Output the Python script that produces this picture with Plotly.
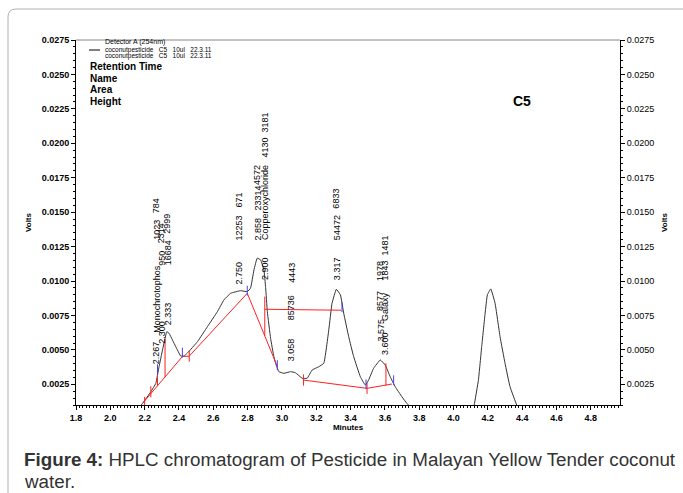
import plotly.graph_objects as go
import numpy as np

# ---------------- data ----------------
main_t = [2.16, 2.188, 2.236, 2.265, 2.284, 2.304, 2.319, 2.329, 2.342, 2.362, 2.391, 2.410,
          2.430, 2.449, 2.508, 2.566, 2.624, 2.662, 2.701, 2.759, 2.798, 2.817, 2.837, 2.856,
          2.876, 2.895, 2.905, 2.915, 2.934, 2.953, 2.963, 2.982, 3.011, 3.050, 3.079, 3.118,
          3.147, 3.176, 3.215, 3.244, 3.273, 3.292, 3.317, 3.341, 3.360, 3.389, 3.418, 3.457,
          3.486, 3.505, 3.534, 3.573, 3.602, 3.631, 3.660, 3.699, 3.728, 3.77]
main_v = [0.0007, 0.00112, 0.00196, 0.00257, 0.00378, 0.00499, 0.00584, 0.00632, 0.00621,
          0.00572, 0.00499, 0.00456, 0.00456, 0.00477, 0.0056, 0.00669, 0.00778, 0.00863,
          0.00911, 0.0093, 0.00923, 0.00948, 0.01081, 0.01166, 0.01153, 0.01081, 0.00953,
          0.00778, 0.00584, 0.00451, 0.00403, 0.00342, 0.0033, 0.00342, 0.00334, 0.00294,
          0.00294, 0.00354, 0.00378, 0.00403, 0.00645, 0.00839, 0.0094, 0.00899, 0.00766,
          0.00596, 0.00451, 0.00305, 0.00245, 0.00281, 0.00366, 0.00427, 0.0039, 0.00305,
          0.00233, 0.0016, 0.00112, 0.0006]

peak2_t = [4.11, 4.12, 4.145, 4.164, 4.184, 4.197, 4.217, 4.242, 4.271, 4.300, 4.329, 4.368, 4.38]
peak2_v = [0.0007, 0.001, 0.00281, 0.00523, 0.00766, 0.00899, 0.00943, 0.00839, 0.00596,
           0.00403, 0.00233, 0.001, 0.0007]

# integration baselines / drop lines (red)
base_t = [2.188, 2.42, 2.46, 2.798, 2.973, None,
          2.275, 2.275, None, 2.319, 2.319, None,
          2.900, 2.900, None, 2.900, 3.345, None,
          3.126, 3.496, 3.641, None, 3.606, 3.606]
base_v = [0.00112, 0.00452, 0.00455, 0.00911, 0.0038, None,
          0.00239, 0.0032, None, 0.00303, 0.0058, None,
          0.00602, 0.00887, None, 0.00795, 0.00788, None,
          0.00281, 0.00221, 0.00252, None, 0.00241, 0.00403]

red_tick_t = [2.20, 2.236, 2.46, 3.126, 3.496]
red_tick_v = [0.00118, 0.00196, 0.00455, 0.00281, 0.00221]

blue_tick_t = [2.275, 2.42, 2.798, 2.973, 3.35, 3.49, 3.651]
blue_tick_v = [0.0036, 0.0048, 0.0093, 0.0039, 0.0081, 0.0025, 0.0028]

# peak labels (retention time, name, area, height)
lab_rt = [2.267, 2.300, 2.333, 2.750, 2.858, 2.900, 3.058, 3.317, 3.575, 3.600]
lab_name = ["Monochrotophos", "", "", "", "", "Copperoxychloride", "", "", "", "Galaxy"]
lab_area = ["1023", "950", "16684", "12253", "23314", "4130", "85736", "54472", "8577", "1843"]
lab_height = ["784", "2314", "2999", "671", "4572", "3181", "4443", "6833", "1978", "1481"]

# label layout (pixel offsets): base shift above trace, name / area / height offsets
lab_shift = [15, 8, 5, 4, 16, -3, 9, 7, 17, 8]
name_off = [32, 0, 0, 0, 0, 40, 0, 0, 0, 34]
area_off = [125, 78, 60, 44, 30, 122, 41, 40, 30, 74]
height_off = [151, 100, 92, 77, 55, 147, 78, 72, 60, 99]

x_ticks = [1.8, 2.0, 2.2, 2.4, 2.6, 2.8, 3.0, 3.2, 3.4, 3.6, 3.8, 4.0, 4.2, 4.4, 4.6, 4.8]
y_ticks = [0.0025, 0.0050, 0.0075, 0.0100, 0.0125, 0.0150, 0.0175, 0.0200, 0.0225, 0.0250, 0.0275]

# ---------------- figure ----------------
W, H = 683, 493
L, R, T, B = 76, 620, 40, 405
def px(x):
    return (x - L) / (R - L)
def py(y):
    return (B - y) / (B - T)

XR = [1.8, 4.97]
YR = [0.001, 0.0275]

fig = go.Figure()
fig.add_trace(go.Scatter(x=main_t, y=main_v, mode="lines", line=dict(color="#333333", width=1, shape="spline", smoothing=0.3), hoverinfo="skip"))
fig.add_trace(go.Scatter(x=peak2_t, y=peak2_v, mode="lines", line=dict(color="#333333", width=1, shape="spline", smoothing=0.3), hoverinfo="skip"))
fig.add_trace(go.Scatter(x=base_t, y=base_v, mode="lines", line=dict(color="#ff2020", width=1), connectgaps=False, hoverinfo="skip"))
fig.add_trace(go.Scatter(x=red_tick_t, y=red_tick_v, mode="markers",
                         marker=dict(symbol="line-ns", size=8, line=dict(color="#ff2020", width=1)), hoverinfo="skip"))
fig.add_trace(go.Scatter(x=blue_tick_t, y=blue_tick_v, mode="markers",
                         marker=dict(symbol="line-ns", size=7, line=dict(color="#4040ff", width=1)), hoverinfo="skip"))
fig.add_trace(go.Scatter(x=[XR[0]], y=[YR[0]], yaxis="y2", mode="markers", marker=dict(opacity=0), hoverinfo="skip"))

lab_font = dict(family="Liberation Sans, Arial", size=9, color="#000")
def vlabel(x, y, text, shift):
    fig.add_annotation(x=x, y=y, text=text, textangle=-90, showarrow=False,
                       xanchor="center", yanchor="bottom", yshift=shift, font=lab_font)

for i, rt in enumerate(lab_rt):
    yv = float(np.interp(rt, main_t, main_v))
    sh = lab_shift[i]
    vlabel(rt, yv, f"{rt:.3f}", sh)
    if lab_name[i]:
        vlabel(rt, yv, lab_name[i], sh + name_off[i])
    vlabel(rt, yv, lab_area[i], sh + area_off[i])
    vlabel(rt, yv, lab_height[i], sh + height_off[i])

tick_font = dict(family="Liberation Sans Narrow, Liberation Sans, Arial", size=9, color="#000")
axis_common = dict(showline=True, linecolor="#000", linewidth=1, showgrid=False, zeroline=False,
                   automargin=False)

fig.update_layout(
    width=W, height=H, margin=dict(l=L, r=W - R, t=T, b=H - B, autoexpand=False),
    paper_bgcolor="white", plot_bgcolor="white", showlegend=False,
    xaxis=dict(range=XR, tickvals=x_ticks, ticktext=[f"{v:.1f}" for v in x_ticks],
               ticks="outside", ticklen=4, tickcolor="#000",
               minor=dict(dtick=0.02, tick0=1.8, ticks="outside", ticklen=2, tickcolor="#000"),
               tickfont=dict(tick_font, **{"weight": "bold"}),
               title=dict(text="Minutes", font=dict(family="Liberation Sans Narrow, Liberation Sans, Arial", size=8, color="#000", weight="bold"), standoff=2),
               **axis_common),
    yaxis=dict(range=YR, tickvals=y_ticks, ticktext=[f"{v:.4f}" for v in y_ticks],
               ticks="outside", ticklen=4, tickcolor="#000",
               minor=dict(dtick=0.0005, tick0=0, ticks="outside", ticklen=2, tickcolor="#000"),
               tickfont=dict(family="Liberation Sans, Arial", size=9, color="#000", weight="bold"),
               title=dict(text="Volts", font=dict(family="Liberation Sans, Arial", size=8, color="#000", weight="bold"), standoff=8),
               **axis_common),
    yaxis2=dict(range=YR, overlaying="y", side="right", tickvals=y_ticks,
                ticktext=[f"{v:.4f}" for v in y_ticks],
                ticks="outside", ticklen=4, tickcolor="#000",
                minor=dict(dtick=0.0005, tick0=0, ticks="outside", ticklen=2, tickcolor="#000"),
                tickfont=dict(family="Liberation Sans, Arial", size=9, color="#000"),
                title=dict(text="Volts", font=dict(family="Liberation Sans, Arial", size=8, color="#000", weight="bold"), standoff=8),
                **axis_common),
)

# top frame line (gray)
fig.add_shape(type="line", xref="paper", yref="paper", x0=0, x1=1, y0=1, y1=1,
              line=dict(color="#888888", width=1))

# outer border with rounded top-left corner
path = (f"M {px(683)},{py(9)} L {px(16)},{py(9)} Q {px(8)},{py(9)} {px(8)},{py(17)} "
        f"L {px(8)},{py(493)}")
fig.add_shape(type="path", xref="paper", yref="paper", path=path,
              line=dict(color="#b0b0b0", width=1))

# header texts
NB = "\u00a0"
small = dict(family="Liberation Sans Narrow, Liberation Sans, Arial", size=6.5, color="#000")
run_txt = "coconutpesticide" + NB * 3 + "C5" + NB * 3 + "10ul" + NB * 3 + "22.3.11"
fig.add_annotation(xref="paper", yref="paper", x=px(103), y=py(42), text="Detector A (254nm)",
                   showarrow=False, xanchor="left", yanchor="middle",
                   font=dict(small, size=7))
fig.add_shape(type="line", xref="paper", yref="paper", x0=px(89), x1=px(100), y0=py(50), y1=py(50),
              line=dict(color="#000", width=1))
fig.add_annotation(xref="paper", yref="paper", x=px(103), y=py(50), text=run_txt,
                   showarrow=False, xanchor="left", yanchor="middle", font=small)
fig.add_annotation(xref="paper", yref="paper", x=px(103), y=py(56.5), text=run_txt,
                   showarrow=False, xanchor="left", yanchor="middle", font=small)
bold10 = dict(family="Liberation Sans, Arial", size=10, color="#000", weight="bold")
for txt, yy in [("Retention Time", 66), ("Name", 78), ("Area", 89.5), ("Height", 101)]:
    fig.add_annotation(xref="paper", yref="paper", x=px(88), y=py(yy), text=txt,
                       showarrow=False, xanchor="left", yanchor="middle", font=bold10)
fig.add_annotation(xref="paper", yref="paper", x=px(511), y=py(101), text="C5",
                   showarrow=False, xanchor="left", yanchor="middle",
                   font=dict(family="Liberation Sans, Arial", size=14, color="#000", weight="bold"))

# caption
cap = dict(family="Liberation Sans, Arial", size=18.8, color="#333333")
fig.add_annotation(xref="paper", yref="paper", x=px(22), y=py(459),
                   text="<b>Figure 4:</b> HPLC chromatogram of Pesticide in Malayan Yellow Tender coconut",
                   showarrow=False, xanchor="left", yanchor="middle", font=cap)
fig.add_annotation(xref="paper", yref="paper", x=px(22), y=py(481), text="water.",
                   showarrow=False, xanchor="left", yanchor="middle", font=cap)

fig.write_html("out.html", config={"displayModeBar": False},
               post_script="document.body.style.margin='0';document.body.style.padding='0';")
